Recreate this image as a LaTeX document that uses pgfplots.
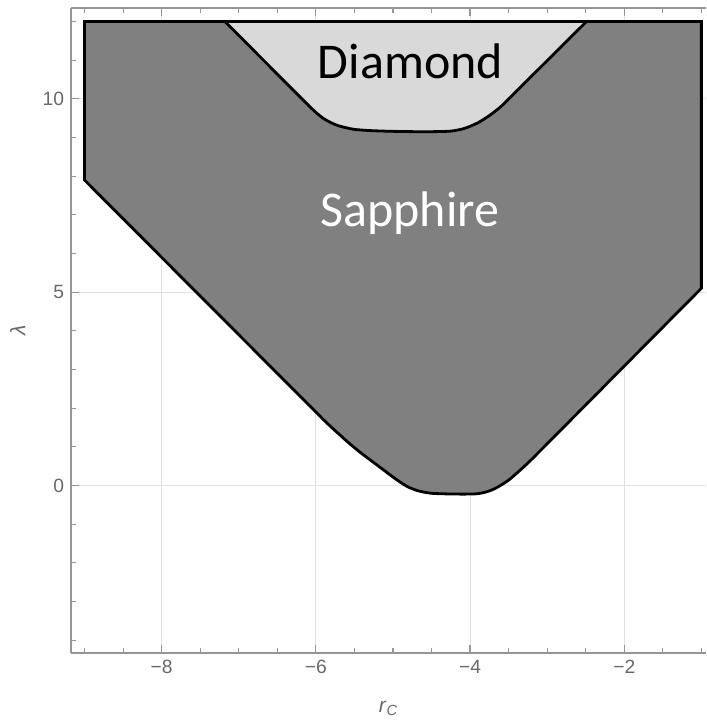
\documentclass[border=0pt]{standalone}
\usepackage{pgfplots}
\pgfplotsset{compat=1.18}
\usepackage{fontspec}
\setmainfont{Liberation Sans}
\newfontfamily\calibri{Carlito}
\definecolor{sapph}{RGB}{128,128,128}
\definecolor{diam}{RGB}{217,217,217}
\definecolor{framegray}{RGB}{150,150,150}
\definecolor{labelgray}{RGB}{105,105,105}
\definecolor{gridgray}{RGB}{225,225,225}
\begin{document}
\begin{tikzpicture}
\useasboundingbox (-35.5pt,-34.5pt) rectangle (317.5pt,326.5pt);
\begin{axis}[
  scale only axis, width=317.5pt, height=322.5pt,
  xmin=-9.176, xmax=-0.94, ymin=-4.33, ymax=12.35,
  axis x line*=box, axis y line*=left,
  axis line style={framegray, line width=0.7pt, -},
  xtick={-8,-6,-4,-2}, xticklabels={−8,−6,−4,−2},
  ytick={0,5,10},
  minor xtick={-9,-8.5,-7.5,-7,-6.5,-5.5,-5,-4.5,-3.5,-3,-2.5,-1.5,-1},
  minor ytick={-4,-3,-2,-1,1,2,3,4,6,7,8,9,11,12},
  tick align=inside,
  major tick length=4pt, minor tick length=2.4pt,
  tick style={framegray, line width=0.6pt},
  xmajorgrids, ymajorgrids,
  major grid style={gridgray, line width=0.5pt},
  ticklabel style={font=\fontsize{9.6}{11}\selectfont, text=labelgray},
  /pgf/number format/assume math mode=true,
  xlabel={\textit{r}\textsubscript{\textit{C}}},
  ylabel={\textit{λ}},
  label style={font=\fontsize{10.5}{12}\selectfont, text=labelgray},
  xlabel style={at={(axis description cs:0.5,-0.086)}, anchor=center},
  ylabel style={at={(axis description cs:-0.084,0.5)}, anchor=center},
]
% Sapphire region fill
\addplot[fill=sapph, draw=none] coordinates {
  (-9,12) (-9,7.9) (-5.9,1.70) (-5.8,1.51) (-5.7,1.33) (-5.6,1.15) (-5.5,0.98)
  (-5.4,0.82) (-5.3,0.67) (-5.2,0.52) (-5.1,0.37) (-5.0,0.22) (-4.9,0.08)
  (-4.8,-0.04) (-4.7,-0.12) (-4.6,-0.17) (-4.5,-0.20) (-4.4,-0.21) (-4.2,-0.22)
  (-4.0,-0.22) (-3.9,-0.21) (-3.8,-0.17) (-3.7,-0.10) (-3.6,0.01) (-3.5,0.14)
  (-3.4,0.31) (-3.3,0.49) (-3.2,0.68) (-3.1,0.88) (-3.0,1.08) (-1,5.1) (-1,12)
} -- cycle;
% Sapphire outline: straight parts
\addplot[draw=black, line width=1.4pt, line cap=round] coordinates {
  (-5.9,1.70) (-9,7.9) (-9,12) (-1,12) (-1,5.1) (-3.0,1.08)
};
% Sapphire outline: rounded bottom
\addplot[draw=black, line width=1.4pt, line cap=round, smooth, tension=0.5] coordinates {
  (-5.9,1.70) (-5.8,1.51) (-5.7,1.33) (-5.6,1.15) (-5.5,0.98)
  (-5.4,0.82) (-5.3,0.67) (-5.2,0.52) (-5.1,0.37) (-5.0,0.22) (-4.9,0.08)
  (-4.8,-0.04) (-4.7,-0.12) (-4.6,-0.17) (-4.5,-0.20) (-4.4,-0.21) (-4.2,-0.22)
  (-4.0,-0.22) (-3.9,-0.21) (-3.8,-0.17) (-3.7,-0.10) (-3.6,0.01) (-3.5,0.14)
  (-3.4,0.31) (-3.3,0.49) (-3.2,0.68) (-3.1,0.88) (-3.0,1.08)
};
% Diamond region fill
\addplot[fill=diam, draw=none] coordinates {
  (-7.18,12) (-6.1,9.84) (-6.0,9.65) (-5.9,9.49) (-5.8,9.38) (-5.7,9.30)
  (-5.6,9.25) (-5.5,9.21) (-5.3,9.18) (-5.0,9.16) (-4.6,9.15) (-4.3,9.16)
  (-4.2,9.18) (-4.1,9.22) (-4.0,9.29) (-3.9,9.38) (-3.8,9.50) (-3.7,9.64)
  (-3.6,9.80) (-2.49,12)
} -- cycle;
% Diamond outline
\addplot[draw=black, line width=1.4pt, line cap=round] coordinates {
  (-6.1,9.84) (-7.18,12) (-2.49,12) (-3.6,9.80)
};
\addplot[draw=black, line width=1.4pt, line cap=round, smooth, tension=0.5] coordinates {
  (-6.1,9.84) (-6.0,9.65) (-5.9,9.49) (-5.8,9.38) (-5.7,9.30)
  (-5.6,9.25) (-5.5,9.21) (-5.3,9.18) (-5.0,9.16) (-4.6,9.15) (-4.3,9.16)
  (-4.2,9.18) (-4.1,9.22) (-4.0,9.29) (-3.9,9.38) (-3.8,9.50) (-3.7,9.64)
  (-3.6,9.80)
};
\node[font=\calibri\fontsize{25}{30}\selectfont, anchor=base, text=black] at (axis cs:-4.773,10.535) {Diamond};
\node[font=\calibri\fontsize{25}{30}\selectfont, anchor=base, text=white] at (axis cs:-4.78,6.69) {Sapphire};
\end{axis}
\end{tikzpicture}
\end{document}
